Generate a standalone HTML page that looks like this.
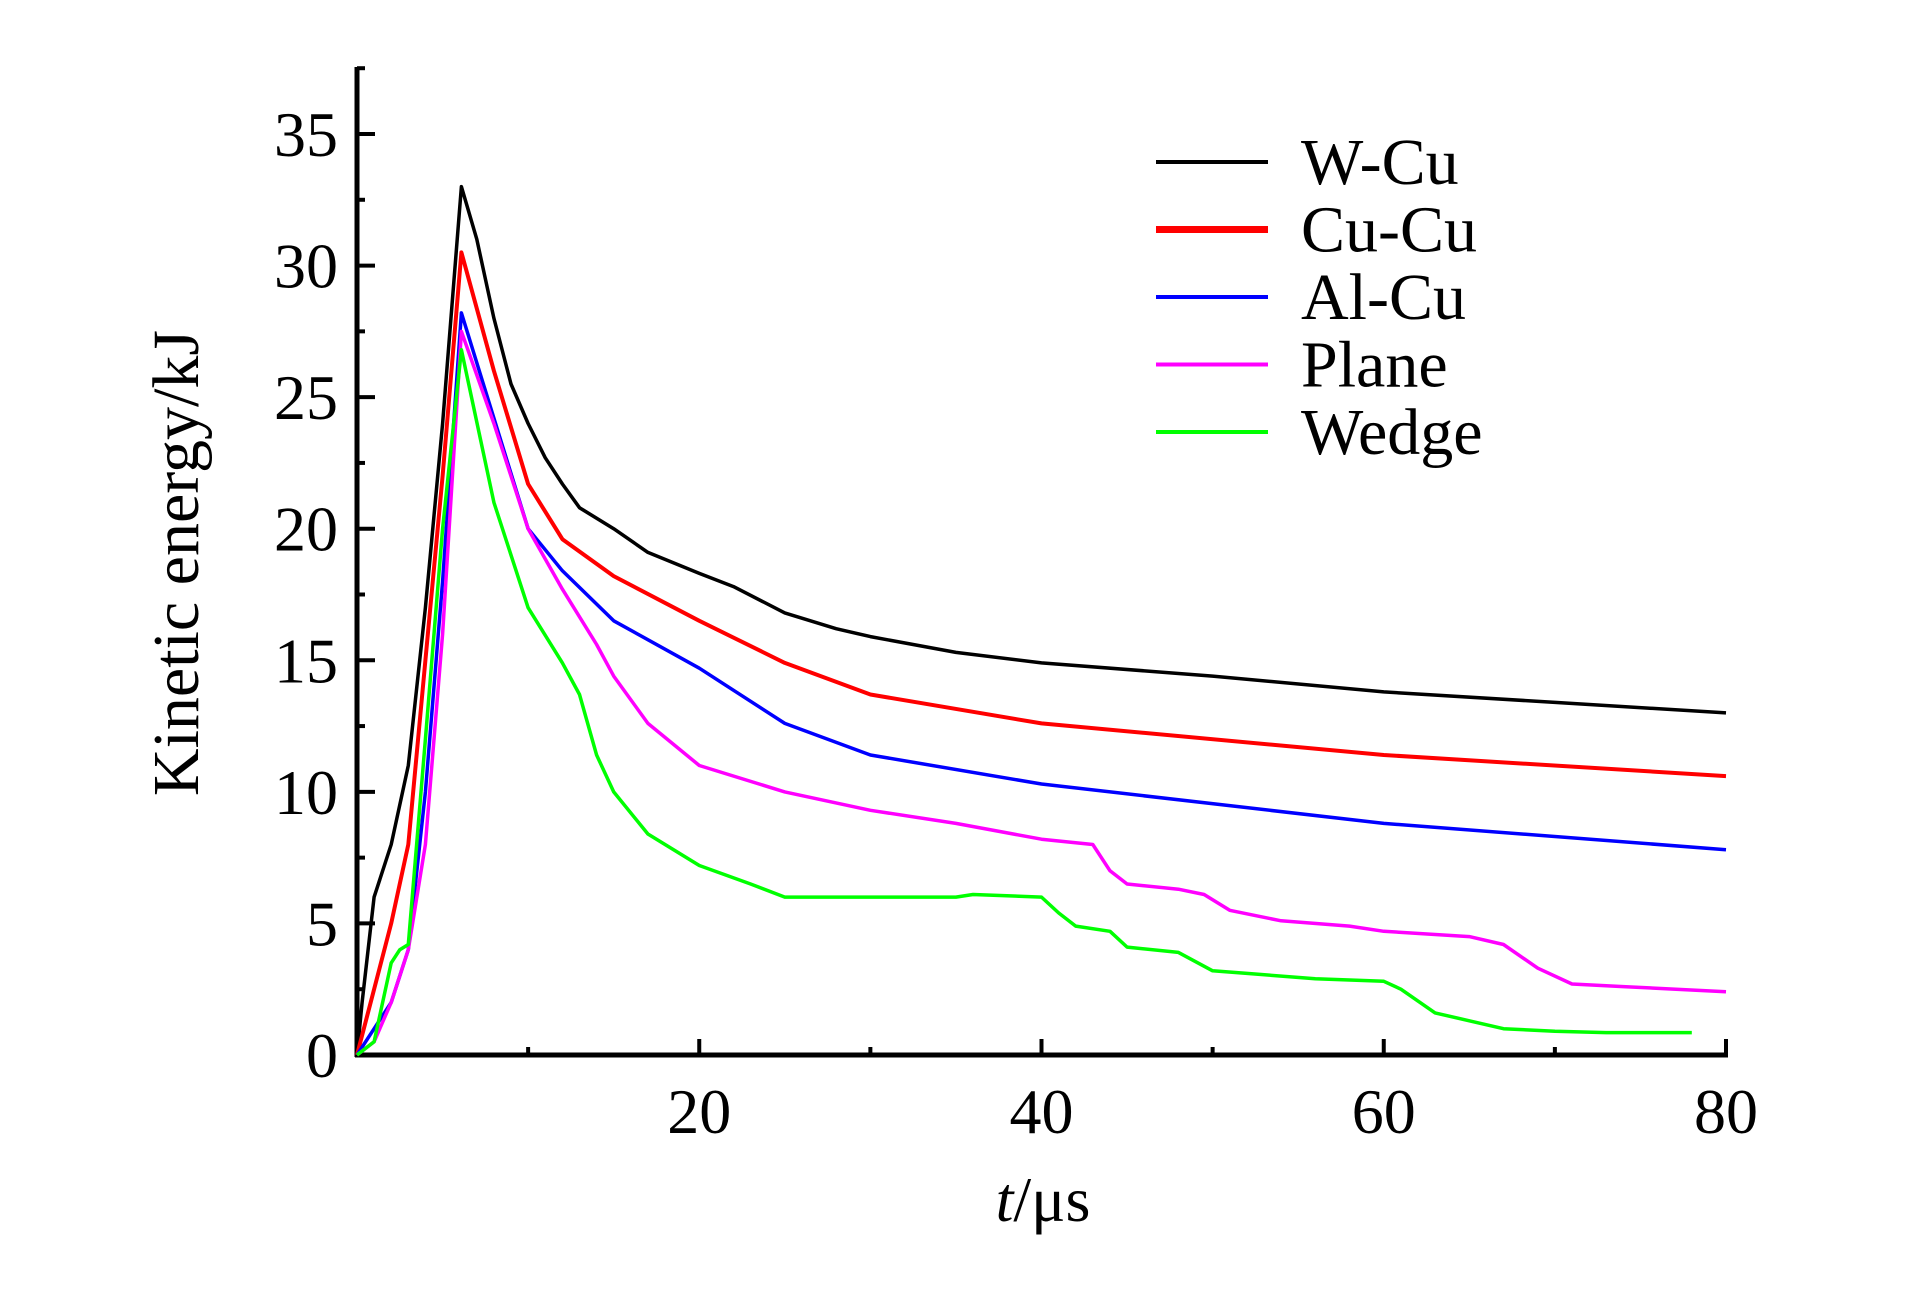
<!DOCTYPE html>
<html><head><meta charset="utf-8"><style>
html,body{margin:0;padding:0;background:#fff}
svg{display:block}
text{font-family:"Liberation Serif",serif;fill:#000}
</style></head><body>
<svg id="chart" width="1923" height="1299" viewBox="0 0 1923 1299" xmlns="http://www.w3.org/2000/svg">
<g id="axes"></g>
<g id="series"></g>
<g id="legend"></g>
<text x="1043" y="1221" font-size="64" text-anchor="middle"><tspan font-style="italic">t</tspan>/μs</text>
<text transform="translate(198,563) rotate(-90)" font-size="66" text-anchor="middle">Kinetic energy/kJ</text>
</svg>
<script>
const xTicks=[20,40,60,80];
const yTicks=[0,5,10,15,20,25,30,35];
const seriesNames=["W-Cu","Cu-Cu","Al-Cu","Plane","Wedge"];
const seriesColors=["#000000","#ff0000","#0000ff","#ff00ff","#00ff00"];
const wcuT=[0,0.3,1,2,3,4,5,6.1,7,8,9,10,11,12,13,15,17,20,22,25,28,30,35,40,50,60,70,80];
const wcuV=[0,2,6,8,11,17,24,33,31,28,25.5,24,22.7,21.7,20.8,20,19.1,18.3,17.8,16.8,16.2,15.9,15.3,14.9,14.4,13.8,13.4,13.0];
const cucuT=[0,1,2,3,4,5,6.1,8,10,12,15,20,25,30,40,60,80];
const cucuV=[0,2.5,5,8,15,22,30.5,26,21.7,19.6,18.2,16.5,14.9,13.7,12.6,11.4,10.6];
const alcuT=[0,1,2,3,4,5,6.1,8,10,12,15,20,25,30,40,60,80];
const alcuV=[0,1,2,4,10,18,28.2,24.2,20,18.4,16.5,14.7,12.6,11.4,10.3,8.8,7.8];
const planeT=[0,1,2,3,4,5,6.1,8,10,12,14,15,17,20,25,30,35,40,43,44,45,48,49.5,51,54,58,60,65,67,69,71,74,80];
const planeV=[0,0.5,2,4,8,16,27.5,24,20,17.7,15.6,14.4,12.6,11,10,9.3,8.8,8.2,8,7,6.5,6.3,6.1,5.5,5.1,4.9,4.7,4.5,4.2,3.3,2.7,2.6,2.4];
const wedgeT=[0,1,2,2.5,3,4,5,6.1,8,10,12,13,14,15,17,20,23,25,35,36,40,41,42,44,45,48,50,52,56,60,61,63,65,67,70,73,78];
const wedgeV=[0,0.5,3.5,4,4.2,12,20,26.8,21,17,14.9,13.7,11.4,10,8.4,7.2,6.5,6,6,6.1,6,5.4,4.9,4.7,4.1,3.9,3.2,3.1,2.9,2.8,2.5,1.6,1.3,1.0,0.9,0.85,0.85];
const allT=[wcuT,cucuT,alcuT,planeT,wedgeT];
const allV=[wcuV,cucuV,alcuV,planeV,wedgeV];

const X0=357,X1=1726,Y0=1055,Y35=134;
const xs=t=>X0+(X1-X0)*t/80;
const ys=v=>Y0-(Y0-Y35)*v/35;
const NS="http://www.w3.org/2000/svg";
function mk(tag,parent,attrs){const e=document.createElementNS(NS,tag);for(const k in attrs)e.setAttribute(k,attrs[k]);parent.appendChild(e);return e;}
const axes=document.getElementById('axes');
let e=mk('line',axes,{x1:X0,y1:67,x2:X0,y2:Y0+2,stroke:'#000','stroke-width':5});


e=mk('line',axes,{x1:X0-2,y1:Y0,x2:X1+2,y2:Y0,stroke:'#000','stroke-width':5});


for(let t=10;t<=80;t+=10){
  const major=t%20===0;
  e=mk('line',axes,{x1:xs(t),y1:Y0,x2:xs(t),y2:Y0-(major?16:8),stroke:'#000','stroke-width':4});
  
  
}
xTicks.forEach(t=>{
  e=mk('text',axes,{x:xs(t),y:1133,'font-size':64,'text-anchor':'middle'});
  e.textContent=t;
  
  
});
for(let v=2.5;v<=37.5;v+=2.5){
  const major=v%5===0;
  e=mk('line',axes,{x1:X0,y1:ys(v),x2:X0+(major?18:8),y2:ys(v),stroke:'#000','stroke-width':4});
  
  
}
yTicks.forEach(v=>{
  e=mk('text',axes,{x:338,y:ys(v)+22,'font-size':64,'text-anchor':'end'});
  e.textContent=v;
  
  
});
const sg=document.getElementById('series');
const lg=document.getElementById('legend');
allT.forEach((T,i)=>{
  const pts=T.map((t,j)=>xs(t).toFixed(1)+','+ys(allV[i][j]).toFixed(1)).join(' ');
  const p=mk('polyline',sg,{points:pts,fill:'none',stroke:seriesColors[i],'stroke-width':i===1?4:3.5,'stroke-linejoin':'round'});
  
  
  const ly=162+i*67.5;
  const l=mk('line',lg,{x1:1156,y1:ly,x2:1268,y2:ly,stroke:seriesColors[i],'stroke-width':i===1?7:4});
  
  
  const tx=mk('text',lg,{x:1301,y:ly+22,'font-size':66});
  tx.textContent=seriesNames[i];
  
  
});
</script>
</body></html>
